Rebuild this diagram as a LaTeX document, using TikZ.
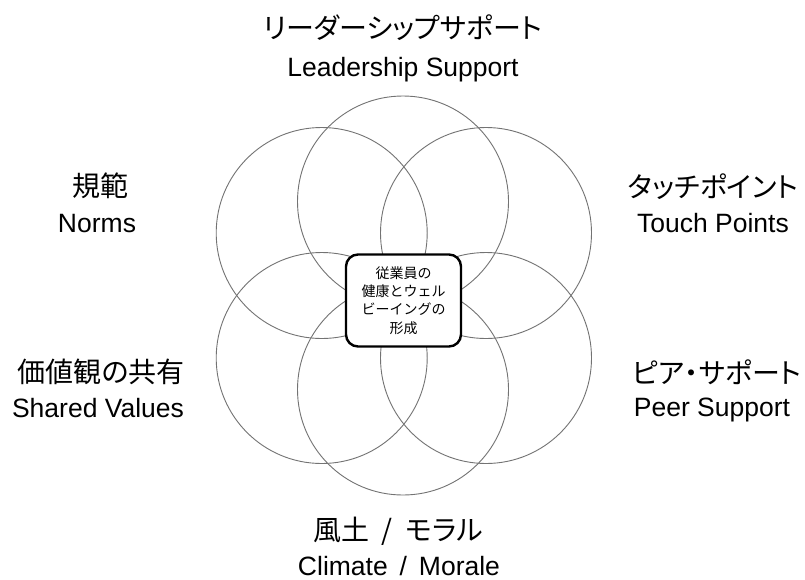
\documentclass[tikz,border=0pt]{standalone}
\usepackage{fontspec}
\setmainfont{Liberation Sans}
\newfontfamily\jpfont{Noto Sans CJK JP}
\newfontfamily\jppfont[RawFeature=+palt]{Noto Sans CJK JP}
\begin{document}
\begin{tikzpicture}[x=1pt,y=-1pt,
  ring/.style={circle,draw=black!55,line width=0.9pt,minimum size=211pt,inner sep=0pt},
  jplabel/.style={font=\jppfont\fontsize{28}{32}\selectfont,inner sep=0pt},
  enlabel/.style={font=\fontsize{26.5}{30}\selectfont,inner sep=0pt,anchor=base},
  hub/.style={draw=black,line width=2.4pt,rounded corners=12pt,fill=white,minimum width=115pt,minimum height=92pt,align=center,font=\jpfont\fontsize{14}{18.4}\selectfont,inner sep=0pt}]
\useasboundingbox (0,0) rectangle (805,579);
\fill[white] (0,0) rectangle (805,579);
% circles
\node[ring] (ct) at (403,201.5) {};
\node[ring] (ctl) at (321.7,233) {};
\node[ring] (ctr) at (486,233) {};
\node[ring] (cbl) at (321.7,358) {};
\node[ring] (cbr) at (486,358) {};
\node[ring] (cb) at (403,389.5) {};
% hub
\node[hub] (hub) at (403.5,300.5) {従業員の\\健康とウェル\\ビーイングの\\形成};
% labels
\node[jplabel] (tj) at (403,28) {リーダーシップサポート};
\node[enlabel] (te) at (403,76) {Leadership Support};
\node[jplabel] (nj) at (100,186) {規範};
\node[enlabel] (ne) at (97,232) {Norms};
\node[jplabel] (pj) at (713,186.5) {タッチポイント};
\node[enlabel] (pe) at (713,232) {Touch Points};
\node[jplabel] (sj) at (101,372) {価値観の共有};
\node[enlabel] (se) at (98,417) {Shared Values};
\node[jplabel] (rj) at (717,372) {ピア・サポート};
\node[enlabel] (re) at (712,416) {Peer Support};
\node[jplabel] (cj) at (398,531) {風土\hspace{0.45em}/\hspace{0.45em}モラル};
\node[enlabel] (ce) at (399,575) {Climate\hspace{0.45em}/\hspace{0.45em}Morale};
\end{tikzpicture}
\end{document}
